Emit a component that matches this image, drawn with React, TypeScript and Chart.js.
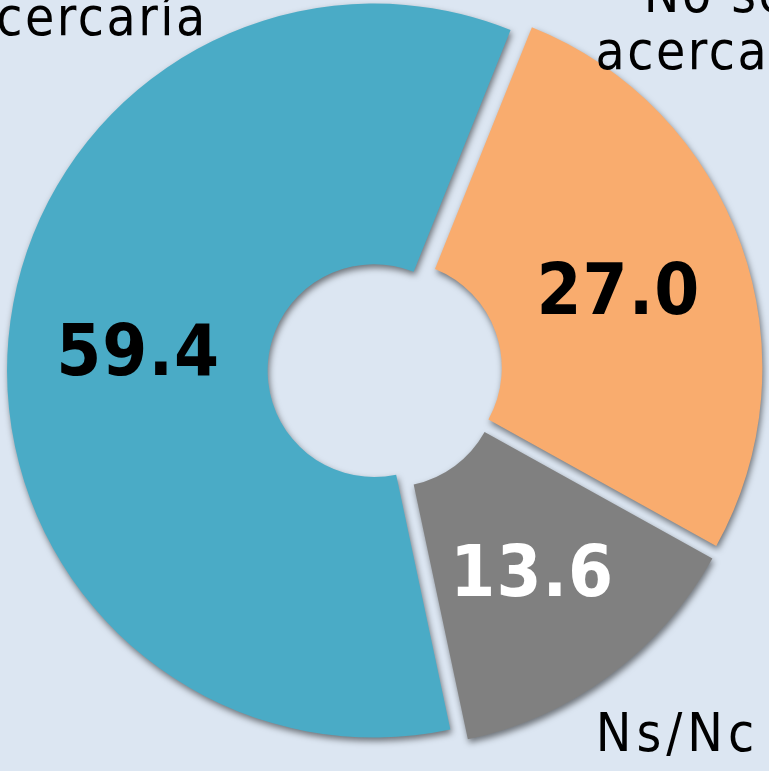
import { useEffect, useRef } from 'react';
import { Chart, registerables } from 'chart.js';

Chart.register(...registerables);

const categories = ['Se acercaría', 'No se acercaría', 'Ns/Nc'];
const values = [59.4, 27.0, 13.6];
const valueLabels = ['59.4', '27.0', '13.6'];
const sliceColors = ['#4AABC6', '#F9AC6E', '#808080'];
const valueLabelColors = ['#000000', '#000000', '#FFFFFF'];
const categoryLines = [['Se', 'acercaría'], ['No se', 'acercaría'], ['Ns/Nc']];

const BG = '#DCE6F2';
const EXPLODE = 11;

const explodePlugin = {
  id: 'explodeAndLabels',
  beforeDatasetDraw(chart: any, args: any) {
    const ctx = chart.ctx;
    const meta = args.meta;
    meta.data.forEach((arc: any) => {
      const p = arc.getProps(['startAngle', 'endAngle'], true);
      const mid = (p.startAngle + p.endAngle) / 2;
      ctx.save();
      ctx.translate(Math.cos(mid) * EXPLODE, Math.sin(mid) * EXPLODE);
      ctx.shadowColor = 'rgba(0,0,0,0.5)';
      ctx.shadowBlur = 6;
      ctx.shadowOffsetX = 1.5;
      ctx.shadowOffsetY = 3.5;
      arc.draw(ctx);
      ctx.restore();
    });
    return false;
  },
  afterDatasetsDraw(chart: any) {
    const ctx = chart.ctx;
    const meta = chart.getDatasetMeta(0);
    const first = meta.data[0];
    const cx = first.x;
    const cy = first.y;
    const R = first.outerRadius;
    ctx.save();
    // value labels
    ctx.font = 'bold 72px "DejaVu Sans Condensed", "DejaVu Sans", sans-serif';
    ctx.textAlign = 'center';
    ctx.textBaseline = 'alphabetic';
    (ctx as any).letterSpacing = '1px';
    meta.data.forEach((arc: any, i: number) => {
      const p = arc.getProps(['startAngle', 'endAngle', 'innerRadius', 'outerRadius'], true);
      const mid = (p.startAngle + p.endAngle) / 2;
      const rr = (p.innerRadius + p.outerRadius) / 2 + EXPLODE;
      const x = cx + Math.cos(mid) * rr;
      const y = cy + Math.sin(mid) * rr;
      ctx.fillStyle = valueLabelColors[i];
      ctx.fillText(valueLabels[i], x, y + 25);
    });
    // category labels
    ctx.fillStyle = '#000000';
    ctx.font = '53px "DejaVu Sans Condensed", "DejaVu Sans", sans-serif';
    const placements = [
      { x: cx - 0.483 * R, y: cy - 0.917 * R, align: 'right', spacing: '2.5px' },
      { x: cx + 0.905 * R, y: cy - 0.824 * R, align: 'center', spacing: '2.5px' },
      { x: cx + 0.797 * R, y: cy + 1.035 * R, align: 'center', spacing: '5px' },
    ];
    categoryLines.forEach((lines, i) => {
      const pl = placements[i];
      const n = lines.length;
      ctx.textAlign = pl.align;
      (ctx as any).letterSpacing = pl.spacing;
      lines.forEach((line, j) => {
        ctx.fillText(line, pl.x, pl.y - (n - 1 - j) * 57);
      });
    });
    ctx.restore();
  },
};

export default function App() {
  const ref = useRef<HTMLCanvasElement | null>(null);
  useEffect(() => {
    document.body.style.margin = '0';
    document.body.style.background = BG;
    const canvas = ref.current;
    if (!canvas) return;
    const chart = new Chart(canvas, {
      type: 'doughnut',
      data: {
        labels: categories,
        datasets: [
          {
            data: values,
            backgroundColor: sliceColors,
            borderWidth: 0,
            hoverOffset: 0,
          },
        ],
      },
      options: {
        responsive: false,
        maintainAspectRatio: false,
        animation: false,
        rotation: 168,
        cutout: '29%',
        layout: { padding: { left: 18, right: 17, top: 4.5, bottom: 32.5 } },
        plugins: {
          legend: { display: false },
          tooltip: { enabled: false },
          title: { display: false },
        },
        events: [],
      },
      plugins: [explodePlugin],
    });
    return () => chart.destroy();
  }, []);
  return (
    <div style={{ width: 769, height: 771, background: BG, overflow: 'hidden' }}>
      <canvas ref={ref} width={769} height={771} style={{ display: 'block' }} />
    </div>
  );
}
